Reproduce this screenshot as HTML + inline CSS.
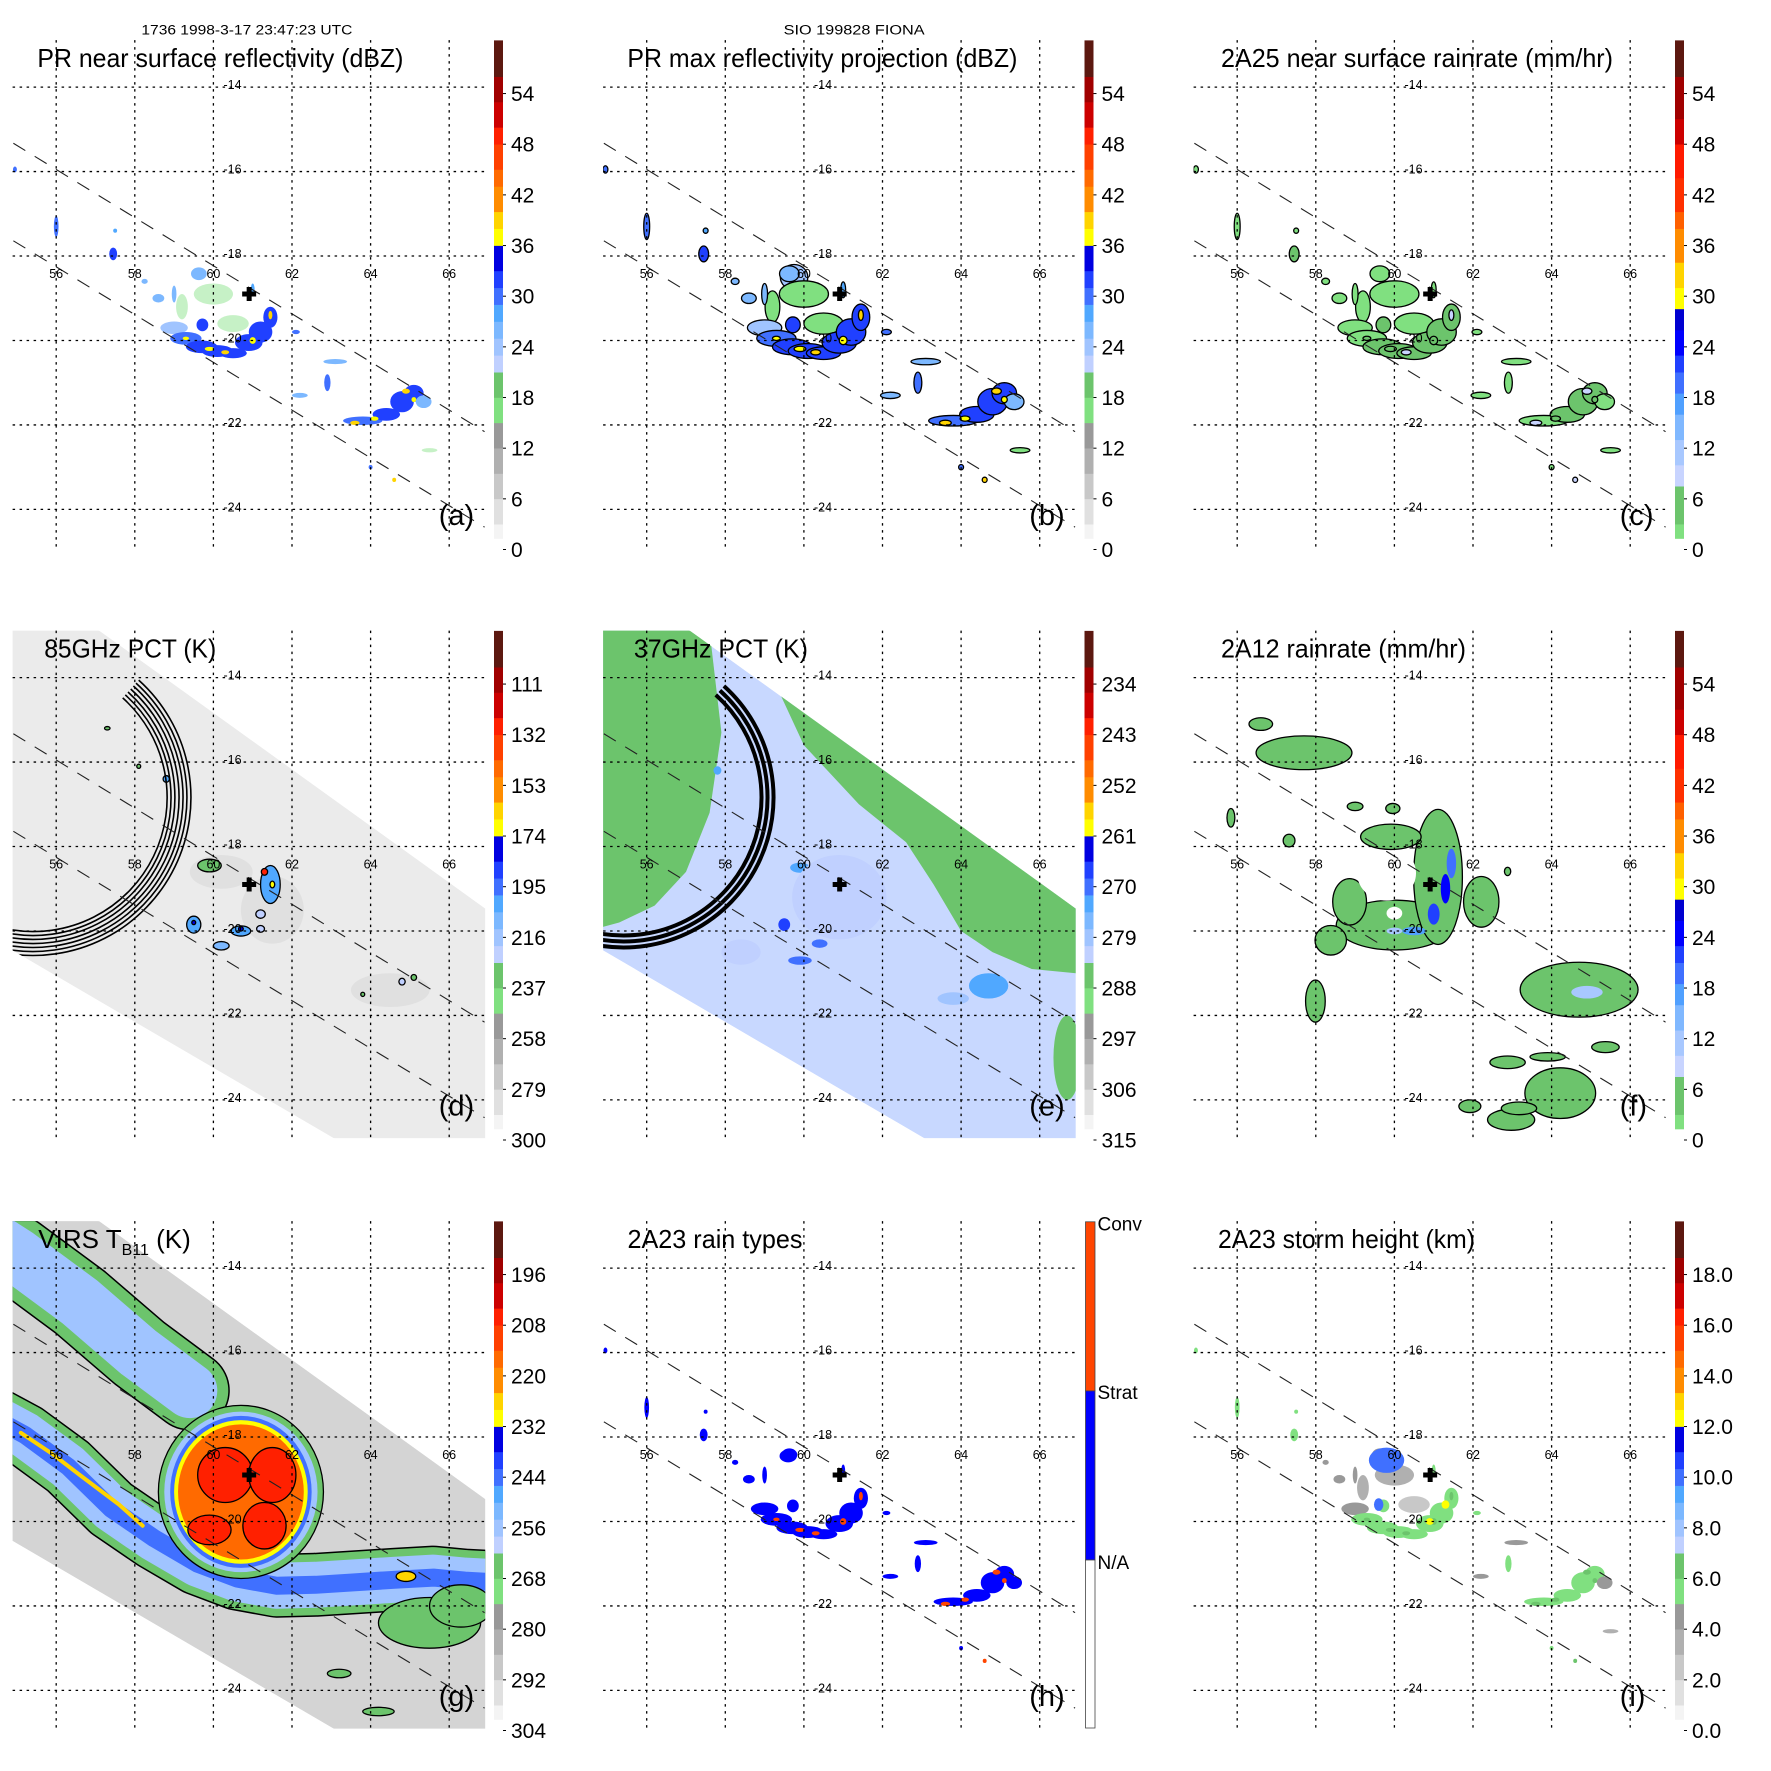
<!DOCTYPE html>
<html><head><meta charset="utf-8">
<style>html,body{margin:0;padding:0;background:#fff}svg{display:block}text{font-family:"Liberation Sans",sans-serif;fill:#000}</style>
</head><body>
<svg id="fig" xmlns="http://www.w3.org/2000/svg" width="1771" height="1771" viewBox="0 0 1771 1771">
<rect width="1771" height="1771" fill="#fff"/>
<defs id="defs"></defs>
<text x="141.4" y="34.4" font-size="13.5" textLength="211" lengthAdjust="spacingAndGlyphs">1736 1998-3-17 23:47:23 UTC</text>
<text x="783.6" y="34.5" font-size="13.5" textLength="141" lengthAdjust="spacingAndGlyphs">SIO 199828 FIONA</text>
</svg>
<script>
// ---------- data ----------
const lonTicks=[56,58,60,62,64,66];
const latTicks=[-14,-16,-18,-20,-22,-24];
const labDbz=['0','6','12','18','24','30','36','42','48','54'];
const labRain=['0','6','12','18','24','30','36','42','48','54'];
const lab85=['300','279','258','237','216','195','174','153','132','111'];
const lab37=['315','306','297','288','279','270','261','252','243','234'];
const labIR=['304','292','280','268','256','244','232','220','208','196'];
const labHt=['0.0','2.0','4.0','6.0','8.0','10.0','12.0','14.0','16.0','18.0'];
const swathEdgeLon=[54.91,66.9];
const swathUpperLat=[-15.33,-22.16];
const swathLowerLat=[-17.64,-24.42];
const centerLon=60.91, centerLat=-18.9;
// PR cells (near-surface reflectivity)
const prLon=[60.0,60.5,59.2,59.0,59.3,59.7,60.1,60.5,60.9,61.2,61.45,59.72,59.63,59.9,60.3,61.0,61.45,59.3,63.8,64.4,64.8,65.1,65.35,63.6,64.1,64.9,65.1,56.0,57.45,58.25,57.5,54.95,63.1,62.9,62.2,64.0,64.6,65.5,59.0,61.0,62.1,58.6];
const prLat=[-18.9,-19.6,-19.2,-19.7,-19.95,-20.15,-20.25,-20.3,-20.05,-19.8,-19.45,-19.63,-18.42,-20.2,-20.28,-20.0,-19.4,-19.95,-21.9,-21.75,-21.45,-21.25,-21.45,-21.95,-21.85,-21.2,-21.4,-17.3,-17.95,-18.6,-17.4,-15.95,-20.5,-21.0,-21.3,-23.0,-23.3,-22.6,-18.9,-18.8,-19.8,-19.0];
const prRx=[.5,.4,.15,.35,.4,.4,.4,.35,.35,.3,.18,.15,.2,.12,.1,.08,.05,.08,.5,.35,.3,.25,.2,.12,.1,.1,.06,.06,.1,.08,.05,.05,.3,.08,.2,.05,.05,.2,.06,.05,.1,.15];
const prRy=[.25,.2,.3,.15,.15,.15,.14,.12,.2,.25,.25,.15,.15,.05,.05,.08,.1,.04,.1,.15,.25,.2,.15,.05,.05,.06,.06,.25,.15,.06,.05,.07,.06,.2,.06,.05,.05,.05,.2,.15,.05,.1];
const prDbz=[17,16,17,24,30,31,32,31,32,31,32,31,25,37,38,37,38,37,30,31,31,32,26,38,37,38,37,30,31,26,28,30,26,30,26,30,38,17,26,28,30,26];
// 2A12 rain cells (mm/hr)
const fLon=[60.0,58.86,61.11,59.8,59.91,60.0,61.45,61.3,61.0,60.5,60.0,57.7,56.6,55.84,57.32,59.0,59.96,62.21,62.88,58.38,57.99,64.7,64.9,65.37,62.88,63.9,64.22,62.97,61.92,63.17];
const fLat=[-19.86,-19.31,-18.72,-18.63,-17.77,-19.58,-18.4,-19.0,-19.6,-20.0,-20.0,-15.78,-15.1,-17.32,-17.86,-17.05,-17.1,-19.31,-18.59,-20.22,-21.66,-21.39,-21.45,-22.75,-23.11,-22.98,-23.84,-24.47,-24.15,-24.2];
const fRx=[1.48,.43,.62,.75,.77,.2,.12,.12,.15,.3,.2,1.22,.3,.1,.15,.2,.18,.45,.08,.4,.25,1.5,.4,.35,.45,.45,.9,.6,.28,.45];
const fRy=[.59,.55,1.6,.65,.3,.15,.35,.35,.25,.1,.08,.4,.15,.22,.15,.1,.12,.6,.1,.35,.5,.65,.15,.13,.15,.1,.6,.25,.15,.15];
const fRain=[3,3,3,-1,3,-1,20,23,21,18,12,3,3,3,3,3,3,3,3,3,3,3,12,3,3,3,3,3,3,3];
// 85 GHz PCT cells (K)
const dLon=[60.2,61.5,64.5,61.45,59.9,59.5,60.7,61.2,61.2,60.2,64.8,65.1,63.8,57.3,58.1,58.8,61.3,61.5,60.7,59.5];
const dLat=[-18.6,-19.5,-21.4,-18.9,-18.45,-19.85,-20.0,-19.6,-19.95,-20.35,-21.2,-21.1,-21.5,-15.2,-16.1,-16.4,-18.6,-18.9,-19.95,-19.8];
const dRx=[.8,.8,1.0,.25,.3,.18,.25,.12,.1,.2,.08,.07,.05,.07,.05,.08,.08,.06,.06,.05];
const dRy=[.4,.8,.4,.45,.15,.2,.12,.1,.08,.1,.08,.07,.05,.04,.05,.08,.08,.08,.05,.05];
const dK=[280,280,282,200,235,205,205,220,225,210,225,235,235,235,235,200,130,170,175,175];
// 37 GHz PCT green areas (K = 288)
const eGreenALon=[54.5,57.6,57.9,57.6,57.0,56.2,55.3,54.5];
const eGreenALat=[-12.5,-12.9,-15.3,-17.2,-18.6,-19.4,-19.8,-20.0];
const eGreenBLon=[59.3,62.0,66.92,66.92,65.8,64.8,64.0,63.3,62.6,61.4,60.0];
const eGreenBLat=[-14.2,-16.1,-19.47,-21.0,-20.9,-20.5,-20.0,-18.9,-17.9,-17.0,-15.6];
const eGreenK=288;
// 37 GHz PCT cells (K)
const eLon=[66.7,61.7,61.05,61.7,59.5,60.4,59.9,59.9,61.2,64.7,63.8,57.8,60.9,58.4];
const eLat=[-23.0,-18.9,-18.4,-19.0,-19.85,-20.3,-20.7,-18.5,-19.8,-21.3,-21.6,-16.2,-19.2,-20.5];
const eRx=[.35,.12,.1,.05,.15,.2,.3,.25,.08,.5,.4,.1,1.2,.5];
const eRy=[1.0,.4,.12,.1,.15,.1,.1,.12,.08,.3,.15,.1,1.0,.3];
const eK=[288,266,262,259,268,270,270,272,270,274,278,272,282,282];
// VIRS IR cells (K)
const gLon=[60.7,60.7,60.7,60.7,60.7,60.3,61.5,59.9,61.3,65.5,66.3,64.9,63.2,64.2];
const gLat=[-19.3,-19.3,-19.3,-19.3,-19.3,-18.9,-18.9,-20.2,-20.1,-22.4,-22.0,-21.3,-23.6,-24.5];
const gRx=[2.1,1.95,1.8,1.7,1.6,.7,.6,.55,.55,1.3,.8,.25,.3,.4];
const gRy=[2.05,1.9,1.8,1.7,1.6,.65,.65,.35,.55,.6,.5,.12,.1,.1];
const gK=[268,256,245,230,218,205,205,205,205,268,268,225,268,268];
const bandLowLon=[54.5,55.2,56.3,57.4,58.5,59.6,60.6,61.6,62.6,63.6,64.6,65.6,66.4,67.2];
const bandLowLat=[-17.6,-17.95,-18.7,-19.7,-20.4,-21.0,-21.35,-21.52,-21.5,-21.44,-21.38,-21.33,-21.4,-21.44];
const bandLowK=[268,256,245];
const bandUpLon=[54.5,55.0,56.6,58.1,59.4];
const bandUpLat=[-13.4,-13.7,-14.8,-16.0,-16.9];
const bandUpK=[268,256];
const streakLon=[55.1,55.9,56.6,57.6,58.2];
const streakLat=[-17.9,-18.4,-18.9,-19.6,-20.1];
const streakK=228;
// storm height extra cells (km)
const iLon=[59.8,59.6,61.3,60.9];
const iLat=[-18.55,-19.6,-19.6,-20.0];
const iRx=[.45,.12,.1,.1];
const iRy=[.3,.15,.1,.08];
const iKm=[10,10,12.5,12.5];
const ring85=[134,138,142,146,150,154,158];
const ring37=[138,144,150];
const tmiLon=[54.5,57.1,66.92,66.92,63.6,54.5];
const tmiLat=[-12.5,-12.89,-19.47,-25.2,-25.2,-20.25];

// ---------- palettes ----------
const palA_t=[0,3,6,9,12,15,18,21,23,25,27,29,31,33,36,38,40,43,45,48,50,53,56];
const palA_c=['#f4f4f4','#e0e0e0','#c8c8c8','#b0b0b0','#999999','#80e080','#6cc46c','#c0d0ff','#a0c4ff','#7cb8ff','#50a8ff','#4070ff','#2040ff','#0000e0','#ffff00','#ffd400','#ff8c00','#ff6a00','#ff4000','#ff2000','#cc0000','#a00000','#5c1810'];
const palC_t=[0,3,7.5,10,13,16,18.5,21,23,26,28.5,31,34,38,40,44,48,51,56];
const palC_c=['#80e080','#6cc46c','#c8d4ff','#a8c8ff','#80b8ff','#50a0ff','#4070ff','#2040ff','#0000ff','#0000d0','#ffff00','#ffd400','#ff8c00','#ff6000','#ff3000','#ff1a00','#cc0000','#a00000','#5c1810'];

// ---------- helpers ----------
const NS='http://www.w3.org/2000/svg';
const svg=document.getElementById('fig');
const defs=document.getElementById('defs');
function mk(tag,attrs,parent){const e=document.createElementNS(NS,tag);for(const k in attrs)e.setAttribute(k,attrs[k]);parent.appendChild(e);return e;}
const X=lon=>56.2+(lon-56)*39.3;
const Y=lat=>87.1+(-14-lat)*42.23;
const SX=d=>d*39.3, SY=d=>d*42.23;
const BY=v=>549.5-v*8.443;
function col(t,c,v){let r=c[0];for(let i=0;i<t.length;i++){if(v>=t[i])r=c[i];}return r;}
const zr=d=>Math.pow(Math.pow(10,d/10)/200,1/1.6);
function geoPath(lons,lats,close){let d='';for(let i=0;i<lons.length;i++){d+=(i?'L':'M')+X(lons[i]).toFixed(1)+' '+Y(lats[i]).toFixed(1);}return close?d+'Z':d;}

const PL=12.6,PT=40.1,PR=485.3,PB=547.6,OFF=590.5;

function ell(parent,lon,lat,rx,ry,fill,stroke,name){
  const e=mk('ellipse',{cx:X(lon),cy:Y(lat),rx:SX(rx),ry:SY(ry),fill:fill},parent);
  if(stroke){e.setAttribute('stroke','#000');e.setAttribute('stroke-width','1.3');}
  
  
  return e;
}
function poly(parent,lons,lats,w,color,name){
  const p=mk('path',{d:geoPath(lons,lats,false),fill:'none',stroke:color,'stroke-width':w,'stroke-linecap':'round','stroke-linejoin':'round'},parent);
  
  
  return p;
}

const panels=[
 {id:'a',title:'PR near surface reflectivity (dBZ)',tx:37.4,tl:366,kind:'pra',bar:'A',labels:labDbz},
 {id:'b',title:'PR max reflectivity projection (dBZ)',tx:36.9,tl:390,kind:'prb',bar:'A',labels:labDbz},
 {id:'c',title:'2A25 near surface rainrate (mm/hr)',tx:40,tl:392,kind:'prc',bar:'C',labels:labRain},
 {id:'d',title:'85GHz PCT (K)',tx:44.2,tl:172,kind:'d',bar:'A',labels:lab85},
 {id:'e',title:'37GHz PCT (K)',tx:43.4,tl:174,kind:'e',bar:'A',labels:lab37},
 {id:'f',title:'2A12 rainrate (mm/hr)',tx:40,tl:245,kind:'f',bar:'C',labels:labRain},
 {id:'g',title:'VIRS T',tx:38.3,tl:0,kind:'g',bar:'A',labels:labIR},
 {id:'h',title:'2A23 rain types',tx:37,tl:175,kind:'h',bar:'H',labels:[]},
 {id:'i',title:'2A23 storm height (km)',tx:37,tl:257,kind:'i',bar:'A',labels:labHt}
];

panels.forEach((p,idx)=>{
  const cx=(idx%3)*OFF, cy=Math.floor(idx/3)*OFF;
  const g=mk('g',{transform:`translate(${cx},${cy})`},svg);
  
  
  const cp=mk('clipPath',{id:'clip-'+p.id},defs);
  mk('rect',{x:PL,y:PT,width:PR-PL,height:PB-PT},cp);
  const sd=geoPath(tmiLon,tmiLat,true);
  const cs=mk('clipPath',{id:'swclip-'+p.id},defs);
  mk('path',{d:sd},cs);
  const plot=mk('g',{'clip-path':`url(#clip-${p.id})`},g);
  
  
  const sw=mk('g',{'clip-path':`url(#swclip-${p.id})`},plot);
  
  

  if(p.kind==='d'||p.kind==='e'||p.kind==='g'){
    const fill=p.kind==='d'?'#ebebeb':(p.kind==='e'?'#c8d8ff':'#d4d4d4');
    const bg=mk('path',{d:sd,fill:fill},sw);
    
    
  }
  if(p.kind==='pra'||p.kind==='prb'||p.kind==='prc'||p.kind==='h'||p.kind==='i'){
    const outl=(p.kind==='prb'||p.kind==='prc');
    const sc=outl?1.25:1;
    if(p.kind==='prb'){ell(plot,59.75,-18.5,.35,.3,col(palA_t,palA_c,24),true,'rain-cell');}
    for(let i=0;i<prLon.length;i++){
      let c;
      if(p.kind==='pra'||p.kind==='prb')c=col(palA_t,palA_c,prDbz[i]);
      else if(p.kind==='prc')c=col(palC_t,palC_c,zr(prDbz[i]));
      else if(p.kind==='h'){if(prDbz[i]<20)continue;c=prDbz[i]>=36?'#ff4500':'#0000ff';}
      else c=col(palA_t,palA_c,prDbz[i]/5.5*3);
      const e=ell(plot,prLon[i],prLat[i],prRx[i]*sc,prRy[i]*sc,c,outl,'rain-cell');
      if(p.kind==='pra'&&prDbz[i]<20)e.setAttribute('opacity','0.45');
    }
    if(p.kind==='h'){ell(plot,59.6,-18.45,.22,.15,'#0000ff',false,'rain-cell');}
    if(p.kind==='i'){for(let i=0;i<iLon.length;i++){ell(plot,iLon[i],iLat[i],iRx[i],iRy[i],col(palA_t,palA_c,iKm[i]*3),false,'storm-height-cell');}}
  }
  if(p.kind==='d'){
    for(let i=0;i<dLon.length;i++){const big=dRx[i]>.5;ell(sw,dLon[i],dLat[i],dRx[i],dRy[i],col(palA_t,palA_c,(300-dK[i])/3.5),!big&&dK[i]<240,'pct-cell');}
  }
  if(p.kind==='e'){
    const gc=col(palA_t,palA_c,(315-eGreenK)/1.5);
    const ga=mk('path',{d:geoPath(eGreenALon,eGreenALat,true),fill:gc},sw);
    
    
    const gb=mk('path',{d:geoPath(eGreenBLon,eGreenBLat,true),fill:gc},sw);
    
    
    for(let i=0;i<eLon.length;i++){ell(sw,eLon[i],eLat[i],eRx[i],eRy[i],col(palA_t,palA_c,(315-eK[i])/1.5),false,'pct-cell');}
  }
  if(p.kind==='d'||p.kind==='e'){
    const radii=p.kind==='d'?ring85:ring37;
    const ccx=33, ccy=207;
    radii.forEach(r=>{
      const a0=-48*Math.PI/180,a1=100*Math.PI/180;
      const d=`M${(ccx+r*Math.cos(a0)).toFixed(1)} ${(ccy+r*Math.sin(a0)).toFixed(1)} A${r} ${r} 0 0 1 ${(ccx+r*Math.cos(a1)).toFixed(1)} ${(ccy+r*Math.sin(a1)).toFixed(1)}`;
      const a=mk('path',{d:d,fill:'none',stroke:'#000','stroke-width':p.kind==='d'?1.6:4},sw);
      
      
    });
  }
  if(p.kind==='g'){
    poly(sw,bandUpLon,bandUpLat,80,'#000','cloud-band-outline');
    poly(sw,bandUpLon,bandUpLat,77,col(palA_t,palA_c,(304-bandUpK[0])/2),'cloud-band-upper');
    poly(sw,bandUpLon,bandUpLat,55,col(palA_t,palA_c,(304-bandUpK[1])/2),'cloud-band-upper-core');
    poly(sw,bandLowLon,bandLowLat,64,'#000','cloud-band-outline');
    poly(sw,bandLowLon,bandLowLat,61,col(palA_t,palA_c,(304-bandLowK[0])/2),'cloud-band-lower');
    poly(sw,bandLowLon,bandLowLat,46,col(palA_t,palA_c,(304-bandLowK[1])/2),'cloud-band-lower-mid');
    poly(sw,bandLowLon,bandLowLat,18,col(palA_t,palA_c,(304-bandLowK[2])/2),'cloud-band-lower-core');
    poly(sw,streakLon,streakLat,4,col(palA_t,palA_c,(304-streakK)/2),'cold-streak');
    for(let i=0;i<gLon.length;i++){ell(sw,gLon[i],gLat[i],gRx[i],gRy[i],col(palA_t,palA_c,(304-gK[i])/2),i===0||i>=5,'cloud-top-cell');}
  }
  if(p.kind==='f'){
    for(let i=0;i<fLon.length;i++){
      const c=fRain[i]<0?'#ffffff':col(palC_t,palC_c,fRain[i]);
      ell(plot,fLon[i],fLat[i],fRx[i],fRy[i],c,fRain[i]>=0&&fRain[i]<10,'rain-cell');
    }
  }

  lonTicks.forEach(lon=>{
    const l=mk('line',{x1:X(lon),x2:X(lon),y1:PT,y2:PB,stroke:'#000','stroke-width':1.3,'stroke-dasharray':'2.5,4.5'},g);
    
    
    const t=mk('text',{x:X(lon),y:278,'font-size':12.5,'text-anchor':'middle'},g);
    t.textContent=String(lon);
    
    
  });
  latTicks.forEach(lat=>{
    const l=mk('line',{x1:PL,x2:PR,y1:Y(lat),y2:Y(lat),stroke:'#000','stroke-width':1.3,'stroke-dasharray':'2.5,4.5'},g);
    
    
    const t=mk('text',{x:223.5,y:Y(lat)+2,'font-size':12.5},g);
    t.textContent=String(lat);
    
    
  });
  [swathUpperLat,swathLowerLat].forEach(lats=>{
    const l=mk('line',{x1:X(swathEdgeLon[0]),y1:Y(lats[0]),x2:X(swathEdgeLon[1]),y2:Y(lats[1]),stroke:'#222','stroke-width':1.1,'stroke-dasharray':'14,11'},plot);
    
    
  });
  const cr=mk('path',{d:`M${X(centerLon)-7} ${Y(centerLat)-2.5}h14v5h-14z M${X(centerLon)-2.5} ${Y(centerLat)-7}h5v14h-5z`,fill:'#000'},g);
  
  

  const cb=mk('g',{},g);
  
  
  if(p.bar==='H'){
    const segs=[['#ff4500',40.8,209.9,'Conv',49.5],['#0000ff',209.9,379,'Strat',218],['#ffffff',379,547,'N/A',388]];
    segs.forEach(s=>{
      const r=mk('rect',{x:495,y:s[1],width:9.5,height:s[2]-s[1],fill:s[0],stroke:'#444','stroke-width':0.8},cb);
      
      
      const t=mk('text',{x:507,y:s[4],'font-size':19},cb);
      t.textContent=s[3];
      
      
    });
  } else {
    const T=p.bar==='C'?palC_t:palA_t, C=p.bar==='C'?palC_c:palA_c;
    for(let i=0;i<T.length;i++){
      const v0=Math.max(T[i],1.3), v1=Math.min(i+1<T.length?T[i+1]:60.3,60.3);
      const r=mk('rect',{x:494,y:BY(v1),width:9,height:BY(v0)-BY(v1)+0.3,fill:C[i]},cb);
      
      
    }
    p.labels.forEach((lb,i)=>{
      const y=549.5-i*50.66;
      const tk=mk('line',{x1:503,x2:506,y1:y,y2:y,stroke:'#000','stroke-width':1},cb);
      
      
      const t=mk('text',{x:511,y:y+7.5,'font-size':21},cb);
      t.textContent=lb;
      
      
    });
  }
  const tt=mk('text',{x:p.tx,y:66.9,'font-size':26},g);
  if(p.tl){tt.setAttribute('textLength',p.tl);tt.setAttribute('lengthAdjust','spacingAndGlyphs');}
  tt.textContent=p.title;
  if(p.kind==='g'){
    const s=mk('tspan',{'font-size':16,dy:7},tt);s.textContent='B11';
    const s2=mk('tspan',{dy:-7},tt);s2.textContent=' (K)';
  }
  
  
  const lt=mk('text',{x:438.7,y:525,'font-size':29},g);
  lt.textContent='('+p.id+')';
  
  
});
</script>
</body></html>
